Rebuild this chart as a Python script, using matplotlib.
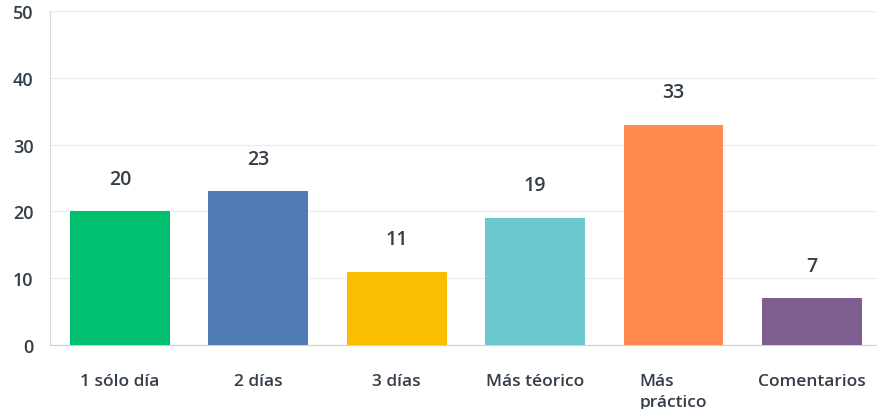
import matplotlib.pyplot as plt

categories = ['1 sólo día', '2 días', '3 días', 'Más téorico', 'Más\npráctico', 'Comentarios']
values = [20, 23, 11, 19, 33, 7]
colors = ['#00bf6f', '#507cb6', '#f9be00', '#6bc8cd', '#ff8b4f', '#7d5e90']
yticks = [0, 10, 20, 30, 40, 50]

text_color = '#333e48'
plt.rcParams['font.family'] = ['Open Sans', 'DejaVu Sans']

fig = plt.figure(figsize=(8.77, 4.10), dpi=100)
ax = fig.add_axes([0.057, 0.156, 0.943, 0.815])

x = list(range(len(categories)))
ax.bar(x, values, width=0.72, color=colors, zorder=3)

# value labels above bars
for xi, v in zip(x, values):
    ax.text(xi, v + 4.9, str(v), ha='center', va='center', fontsize=14,
            fontweight='semibold', color=text_color)

ax.set_xlim(-0.505, 5.47)
ax.set_ylim(0, 50)
ax.set_yticks(yticks)
ax.set_xticks(x)
ax.set_xticklabels(categories, fontsize=12.5, fontweight='semibold',
                   color=text_color, multialignment='left', va='top',
                   linespacing=1.45)
ax.tick_params(axis='x', length=0, pad=20)
ax.tick_params(axis='y', length=0, pad=12, labelsize=13, labelcolor=text_color)
for lbl in ax.get_yticklabels():
    lbl.set_fontweight('semibold')

ax.grid(axis='y', color='#ececec', linewidth=1, zorder=0)
ax.spines['top'].set_visible(False)
ax.spines['right'].set_visible(False)
ax.spines['left'].set_color('#d9d9d9')
ax.spines['bottom'].set_color('#cfcfcf')

fig.savefig('out.png', dpi=100)
